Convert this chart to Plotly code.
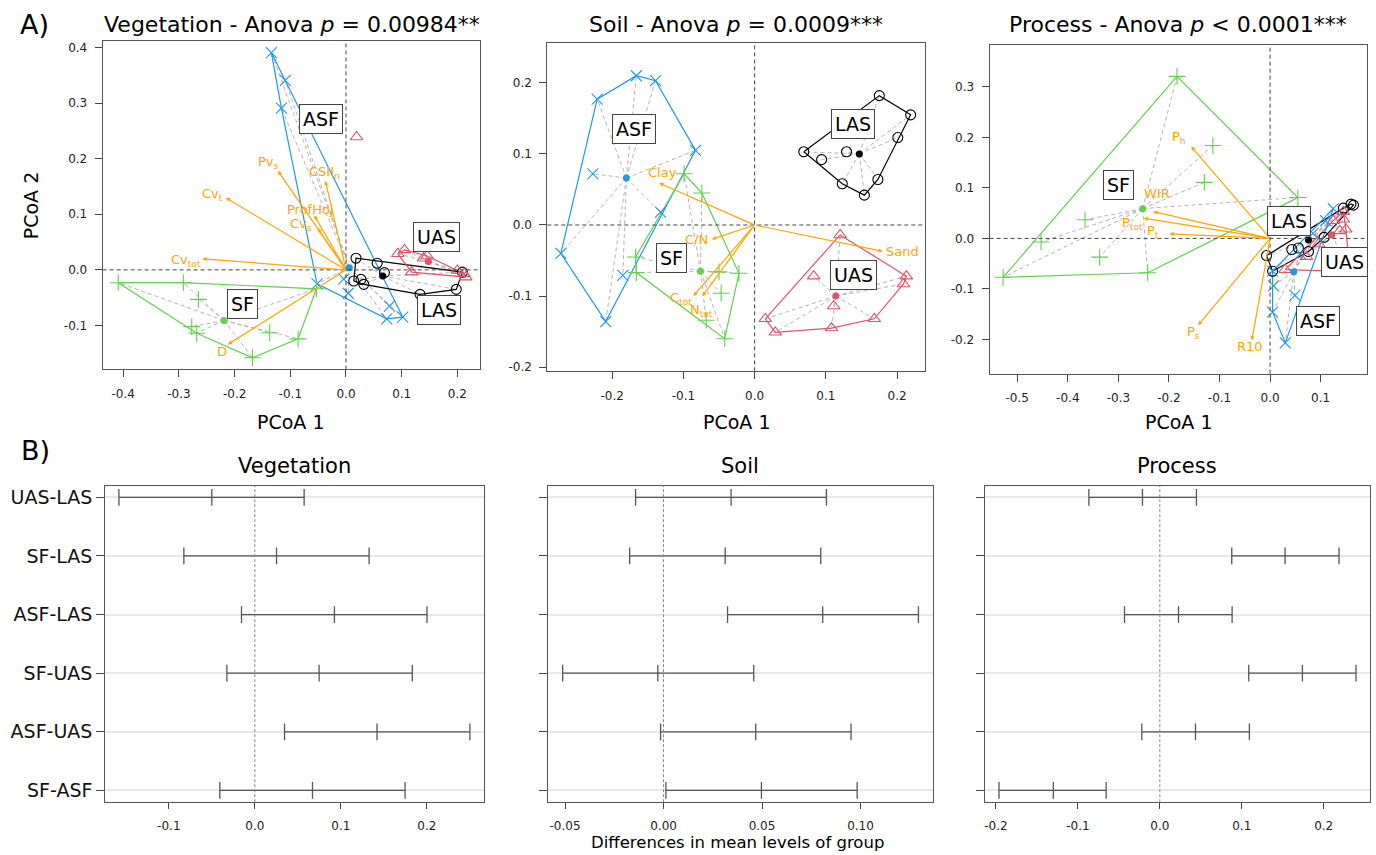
import plotly.graph_objects as go

W, H = 1376, 855
FONT = "DejaVu Sans"
COL = {"LAS": "#000000", "UAS": "#DF536B", "SF": "#61D04F", "ASF": "#2297E6"}
SYM = {"LAS": "circle-open", "UAS": "triangle-up-open", "SF": "cross-thin", "ASF": "x-thin"}
ORANGE = "#FFA500"

# ---------------- Data: PCoA scores ----------------
# Vegetation
veg_ASF_x = [-0.134, -0.109, -0.116, -0.052, -0.004, 0.004, 0.078, 0.073, 0.102]
veg_ASF_y = [0.391, 0.341, 0.291, -0.025, -0.016, -0.042, -0.065, -0.088, -0.085]
veg_SF_x = [-0.409, -0.292, -0.265, -0.277, -0.268, -0.168, -0.137, -0.086, -0.053]
veg_SF_y = [-0.023, -0.023, -0.053, -0.102, -0.114, -0.158, -0.113, -0.124, -0.034]
veg_LAS_x = [0.018, 0.056, 0.069, 0.014, 0.027, 0.032, 0.133, 0.198, 0.209]
veg_LAS_y = [0.021, 0.012, -0.005, -0.020, -0.017, -0.026, -0.044, -0.035, -0.004]
veg_UAS_x = [0.093, 0.105, 0.139, 0.146, 0.118, 0.200, 0.212, 0.215]
veg_UAS_y = [0.029, 0.036, 0.021, 0.025, -0.004, -0.001, -0.007, -0.013]
veg_UAS_extra_x = [0.019]
veg_UAS_extra_y = [0.239]
veg_centroids = {"ASF": (0.006, 0.004), "SF": (-0.219, -0.091), "LAS": (0.066, -0.011), "UAS": (0.148, 0.015)}
veg_vec_names = ["Pv<sub>s</sub>", "CSII<sub>n</sub>", "Cv<sub>t</sub>", "ProfHoj", "Cv<sub>s</sub>", "Cv<sub>tot</sub>", "D"]
veg_vec_x = [-0.122, -0.037, -0.216, -0.057, -0.051, -0.258, -0.212]
veg_vec_y = [0.178, 0.160, 0.130, 0.098, 0.075, 0.020, -0.134]

# Soil
soil_ASF_x = [-0.166, -0.139, -0.221, -0.083, -0.227, -0.132, -0.272, -0.185, -0.209]
soil_ASF_y = [0.210, 0.203, 0.177, 0.105, 0.072, 0.018, -0.040, -0.071, -0.136]
soil_SF_x = [-0.099, -0.074, -0.167, -0.166, -0.050, -0.022, -0.047, -0.068, -0.042]
soil_SF_y = [0.072, 0.045, -0.045, -0.067, -0.066, -0.068, -0.096, -0.134, -0.160]
soil_LAS_x = [0.175, 0.219, 0.201, 0.069, 0.094, 0.129, 0.173, 0.123, 0.154]
soil_LAS_y = [0.182, 0.155, 0.123, 0.103, 0.092, 0.103, 0.064, 0.058, 0.042]
soil_UAS_x = [0.120, 0.083, 0.213, 0.209, 0.111, 0.015, 0.029, 0.108, 0.168]
soil_UAS_y = [-0.014, -0.072, -0.072, -0.083, -0.114, -0.132, -0.151, -0.145, -0.132]
soil_centroids = {"ASF": (-0.180, 0.066), "SF": (-0.076, -0.065), "LAS": (0.147, 0.100), "UAS": (0.114, -0.100)}
soil_vec_names = ["Clay", "Sand", "C/N", "C<sub>tot</sub>", "N<sub>tot</sub>"]
soil_vec_x = [-0.134, 0.180, -0.060, -0.086, -0.073]
soil_vec_y = [0.059, -0.037, -0.020, -0.100, -0.100]

# Process
proc_SF_x = [-0.184, -0.113, -0.130, 0.055, -0.366, -0.453, -0.337, -0.528, -0.242]
proc_SF_y = [0.321, 0.184, 0.111, 0.081, 0.037, -0.007, -0.037, -0.077, -0.068]
proc_LAS_x = [-0.007, 0.005, 0.043, 0.056, 0.076, 0.107, 0.145, 0.165, 0.160]
proc_LAS_y = [-0.034, -0.065, -0.022, -0.019, -0.026, 0.002, 0.060, 0.066, 0.068]
proc_UAS_x = [0.030, 0.072, 0.096, 0.125, 0.138, 0.145, 0.150, 0.145, 0.158]
proc_UAS_y = [-0.062, -0.036, -0.011, 0.035, 0.015, 0.038, 0.018, 0.053, -0.066]
proc_ASF_x = [0.005, 0.007, 0.049, 0.005, 0.030, 0.125, 0.085, 0.110, 0.060]
proc_ASF_y = [-0.065, -0.094, -0.113, -0.146, -0.207, 0.059, 0.010, 0.035, -0.030]
proc_centroids = {"SF": (-0.252, 0.059), "LAS": (0.076, -0.003), "UAS": (0.122, 0.007), "ASF": (0.047, -0.066)}
proc_vec_names = ["P<sub>h</sub>", "WIR", "P<sub>tot</sub>", "P<sub>t</sub>", "P<sub>s</sub>", "R10"]
proc_vec_x = [-0.156, -0.231, -0.250, -0.199, -0.142, -0.036]
proc_vec_y = [0.182, 0.053, 0.040, 0.009, -0.172, -0.202]

# Tukey HSD (lower, diff, upper)
comparisons = ["UAS-LAS", "SF-LAS", "ASF-LAS", "SF-UAS", "ASF-UAS", "SF-ASF"]
veg_lwr = [-0.158, -0.0825, -0.0155, -0.0325, 0.0345, -0.0407]
veg_diff = [-0.050, 0.0252, 0.0925, 0.0747, 0.142, 0.067]
veg_upr = [0.0573, 0.1328, 0.2001, 0.183, 0.250, 0.1746]
soil_lwr = [-0.0142, -0.0172, 0.0325, -0.0512, -0.0015, 0.0012]
soil_diff = [0.0343, 0.0313, 0.0808, -0.0029, 0.0468, 0.0497]
soil_upr = [0.0827, 0.0798, 0.1294, 0.0458, 0.0952, 0.0983]
proc_lwr = [-0.0866, 0.0878, -0.0431, 0.1085, -0.0220, -0.1963]
proc_diff = [-0.0212, 0.1528, 0.0228, 0.174, 0.0435, -0.130]
proc_upr = [0.0447, 0.2187, 0.0882, 0.2394, 0.1093, -0.0655]

# ---------------- Layout geometry (pixels) ----------------
def dx(a, b):
    return [a / W, b / W]

def dy(top, bottom):
    return [1 - bottom / H, 1 - top / H]

fig = go.Figure()


def hull(xs, ys):
    pts = sorted(set(zip(xs, ys)))
    if len(pts) < 3:
        return pts

    def cross(o, a, b):
        return (a[0] - o[0]) * (b[1] - o[1]) - (a[1] - o[1]) * (b[0] - o[0])

    lower, upper = [], []
    for p in pts:
        while len(lower) >= 2 and cross(lower[-2], lower[-1], p) <= 0:
            lower.pop()
        lower.append(p)
    for p in reversed(pts):
        while len(upper) >= 2 and cross(upper[-2], upper[-1], p) <= 0:
            upper.pop()
        upper.append(p)
    h = lower[:-1] + upper[:-1]
    return h + [h[0]]


def axis_common(**kw):
    d = dict(showline=True, mirror=True, linecolor="#555", linewidth=1, ticks="outside",
             ticklen=7, tickcolor="#444", tickwidth=1, showgrid=False, zeroline=False,
             tickfont=dict(family=FONT, size=12, color="#222"))
    d.update(kw)
    return d


def fmt_ticks(vals, nd):
    out = []
    for v in vals:
        s = f"{v:.{nd}f}"
        if s.startswith("-") and float(s) == 0:
            s = s[1:]
        out.append(s)
    return out


def pcoa_panel(idx, groups, centroids, vec_x, vec_y, vec_names, lab_pos, grp_lab_pos,
               xdom, ydom, xr, yr, xt, yt):
    xa = "x" if idx == 1 else f"x{idx}"
    ya = "y" if idx == 1 else f"y{idx}"
    fig.update_layout(**{
        ("xaxis" if idx == 1 else f"xaxis{idx}"): axis_common(domain=xdom, range=xr, tickvals=xt,
                                                             ticktext=fmt_ticks(xt, 1), anchor=ya,
                                                             ticklabelstandoff=6),
        ("yaxis" if idx == 1 else f"yaxis{idx}"): axis_common(domain=ydom, range=yr, tickvals=yt,
                                                             ticktext=fmt_ticks(yt, 1), anchor=xa,
                                                             ticklabelstandoff=5),
    })
    # reference lines
    fig.add_shape(type="line", xref=xa, yref=f"{ya} domain", x0=0, x1=0, y0=0, y1=1,
                  line=dict(color="#444", width=1, dash="4px,3px"))
    fig.add_shape(type="line", xref=f"{xa} domain", yref=ya, x0=0, x1=1, y0=0, y1=0,
                  line=dict(color="#444", width=1, dash="4px,3px"))
    # spiders
    for g, (gx, gy) in groups.items():
        cx, cy = centroids[g]
        sx, sy = [], []
        for px_, py_ in zip(gx, gy):
            sx += [cx, px_, None]
            sy += [cy, py_, None]
        fig.add_trace(go.Scatter(x=sx, y=sy, mode="lines", xaxis=xa, yaxis=ya, hoverinfo="skip",
                                 line=dict(color="#b4b4b4", width=1, dash="4px,3px"), showlegend=False))
    # hulls
    for g, (gx, gy) in groups.items():
        h = hull(gx, gy)
        fig.add_trace(go.Scatter(x=[p[0] for p in h], y=[p[1] for p in h], mode="lines",
                                 xaxis=xa, yaxis=ya, line=dict(color=COL[g], width=1.2),
                                 hoverinfo="skip", showlegend=False))
    # points
    for g, (gx, gy) in groups.items():
        sz = {"LAS": 10, "UAS": 11, "SF": 12, "ASF": 11}[g]
        fig.add_trace(go.Scatter(x=gx, y=gy, mode="markers", xaxis=xa, yaxis=ya, showlegend=False,
                                 marker=dict(symbol=SYM[g], size=sz, color=COL[g],
                                             line=dict(color=COL[g], width=1.1))))
    # centroids
    for g, (cx, cy) in centroids.items():
        fig.add_trace(go.Scatter(x=[cx], y=[cy], mode="markers", xaxis=xa, yaxis=ya, showlegend=False,
                                 marker=dict(symbol="circle", size=7, color=COL[g])))
    # arrows
    for vx, vy in zip(vec_x, vec_y):
        fig.add_annotation(x=vx, y=vy, ax=0, ay=0, xref=xa, yref=ya, axref=xa, ayref=ya, text="",
                           showarrow=True, arrowhead=2, arrowsize=0.7, arrowwidth=1.2, arrowcolor=ORANGE)
    for name, (lx, ly) in zip(vec_names, lab_pos):
        fig.add_annotation(x=lx, y=ly, xref=xa, yref=ya, text=name, showarrow=False,
                           xanchor="center", yanchor="middle",
                           font=dict(family=FONT, size=13, color=ORANGE))
    for g, (lx, ly) in grp_lab_pos.items():
        fig.add_annotation(x=lx, y=ly, xref=xa, yref=ya, text=g, showarrow=False,
                           xanchor="center", yanchor="middle",
                           font=dict(family=FONT, size=19, color="black"), bgcolor="white",
                           bordercolor="#444", borderwidth=1, borderpad=3)


# Vegetation panel
pcoa_panel(1,
           {"ASF": (veg_ASF_x, veg_ASF_y), "SF": (veg_SF_x, veg_SF_y),
            "LAS": (veg_LAS_x, veg_LAS_y), "UAS": (veg_UAS_x, veg_UAS_y)},
           veg_centroids, veg_vec_x, veg_vec_y, veg_vec_names,
           [(-0.140, 0.193), (-0.039, 0.176), (-0.239, 0.135), (-0.063, 0.108), (-0.081, 0.081),
            (-0.287, 0.017), (-0.223, -0.146)],
           {"ASF": (-0.044, 0.272), "UAS": (0.162, 0.059), "LAS": (0.167, -0.072), "SF": (-0.185, -0.061)},
           dx(101.7, 479), dy(41, 370.7), [-0.437, 0.240], [-0.179, 0.412],
           [-0.4, -0.3, -0.2, -0.1, 0.0, 0.1, 0.2], [-0.1, 0.0, 0.1, 0.2, 0.3, 0.4])
fig.add_trace(go.Scatter(x=veg_UAS_extra_x, y=veg_UAS_extra_y, mode="markers", xaxis="x", yaxis="y",
                         showlegend=False, marker=dict(symbol="triangle-up-open", size=11,
                                                       color=COL["UAS"], line=dict(color=COL["UAS"], width=1.1))))

# Soil panel
pcoa_panel(2,
           {"ASF": (soil_ASF_x, soil_ASF_y), "SF": (soil_SF_x, soil_SF_y),
            "LAS": (soil_LAS_x, soil_LAS_y), "UAS": (soil_UAS_x, soil_UAS_y)},
           soil_centroids, soil_vec_x, soil_vec_y, soil_vec_names,
           [(-0.129, 0.074), (0.208, -0.037), (-0.082, -0.021), (-0.103, -0.103), (-0.075, -0.121)],
           {"ASF": (-0.169, 0.135), "LAS": (0.138, 0.142), "SF": (-0.117, -0.047), "UAS": (0.139, -0.070)},
           dx(546.7, 925), dy(42.7, 372.7), [-0.291, 0.2396], [-0.206, 0.2567],
           [-0.2, -0.1, 0.0, 0.1, 0.2], [-0.2, -0.1, 0.0, 0.1, 0.2])

# Process panel
pcoa_panel(3,
           {"SF": (proc_SF_x, proc_SF_y), "LAS": (proc_LAS_x, proc_LAS_y),
            "UAS": (proc_UAS_x, proc_UAS_y), "ASF": (proc_ASF_x, proc_ASF_y)},
           proc_centroids, proc_vec_x, proc_vec_y, proc_vec_names,
           [(-0.181, 0.199), (-0.224, 0.089), (-0.273, 0.030), (-0.232, 0.013), (-0.152, -0.187), (-0.040, -0.215)],
           {"SF": (-0.300, 0.106), "LAS": (0.038, 0.034), "UAS": (0.147, -0.047), "ASF": (0.094, -0.164)},
           dx(989.3, 1367.3), dy(45, 375), [-0.5547, 0.1923], [-0.268, 0.3835],
           [-0.5, -0.4, -0.3, -0.2, -0.1, 0.0, 0.1], [-0.2, -0.1, 0.0, 0.1, 0.2, 0.3])

# ---------------- Tukey panels ----------------
rows = list(range(len(comparisons), 0, -1))  # top row first


def tukey_panel(idx, lwr, diff, upr, xdom, xr, xt, nd, showlabels):
    xa, ya = f"x{idx}", f"y{idx}"
    fig.update_layout(**{
        f"xaxis{idx}": axis_common(domain=xdom, range=xr, tickvals=xt, ticktext=fmt_ticks(xt, nd),
                                   anchor=ya, ticklen=6, ticklabelstandoff=6),
        f"yaxis{idx}": axis_common(domain=dy(487.3, 805), range=[0.8, 6.2], tickvals=rows,
                                   ticktext=comparisons, showticklabels=showlabels, anchor=xa,
                                   ticklen=8, showgrid=True, gridcolor="#e8e8e8", gridwidth=2,
                                   tickfont=dict(family=FONT, size=19, color="#111")),
    })
    fig.add_shape(type="line", xref=xa, yref=f"{ya} domain", x0=0, x1=0, y0=0, y1=1,
                  line=dict(color="#888", width=1, dash="3px,2px"))
    for r, lo, m, up in zip(rows, lwr, diff, upr):
        fig.add_trace(go.Scatter(x=[lo, m, up], y=[r, r, r], mode="lines+markers", xaxis=xa, yaxis=ya,
                                 showlegend=False, line=dict(color="#555", width=1.3),
                                 marker=dict(symbol="line-ns", size=12, line=dict(color="#555", width=1.3))))


tukey_panel(4, veg_lwr, veg_diff, veg_upr, dx(104.3, 483.3), [-0.1739, 0.2663],
            [-0.1, 0.0, 0.1, 0.2], 1, True)
tukey_panel(5, soil_lwr, soil_diff, soil_upr, dx(547.7, 932.3), [-0.0585, 0.1366],
            [-0.05, 0.0, 0.05, 0.10], 2, False)
tukey_panel(6, proc_lwr, proc_diff, proc_upr, dx(984.7, 1370), [-0.2134, 0.2565],
            [-0.2, -0.1, 0.0, 0.1, 0.2], 1, False)

# ---------------- Text ----------------
def ptext(x, y, text, size, **kw):
    fig.add_annotation(x=x / W, y=1 - y / H, xref="paper", yref="paper", text=text, showarrow=False,
                       xanchor="center", yanchor="middle",
                       font=dict(family=FONT, size=size, color="black"), **kw)


ptext(34, 25, "A)", 27)
ptext(35, 452, "B)", 27)
ptext(291, 25, "Vegetation - Anova <i>p</i> = 0.00984**", 22)
ptext(736, 25, "Soil - Anova <i>p</i> = 0.0009***", 22)
ptext(1178, 25, "Process - Anova <i>p</i> &lt; 0.0001***", 22)
ptext(290, 423, "PCoA 1", 19)
ptext(736, 423, "PCoA 1", 19)
ptext(1178, 423, "PCoA 1", 19)
ptext(30, 206, "PCoA 2", 19, textangle=-90)
ptext(294, 468, "Vegetation", 21)
ptext(740, 468, "Soil", 21)
ptext(1177, 468, "Process", 21)
ptext(737, 845, "Differences in mean levels of group", 16.5)

fig.update_layout(width=W, height=H, margin=dict(l=0, r=0, t=0, b=0), plot_bgcolor="white",
                  paper_bgcolor="white", showlegend=False, font=dict(family=FONT))
fig.write_html("out.html")
